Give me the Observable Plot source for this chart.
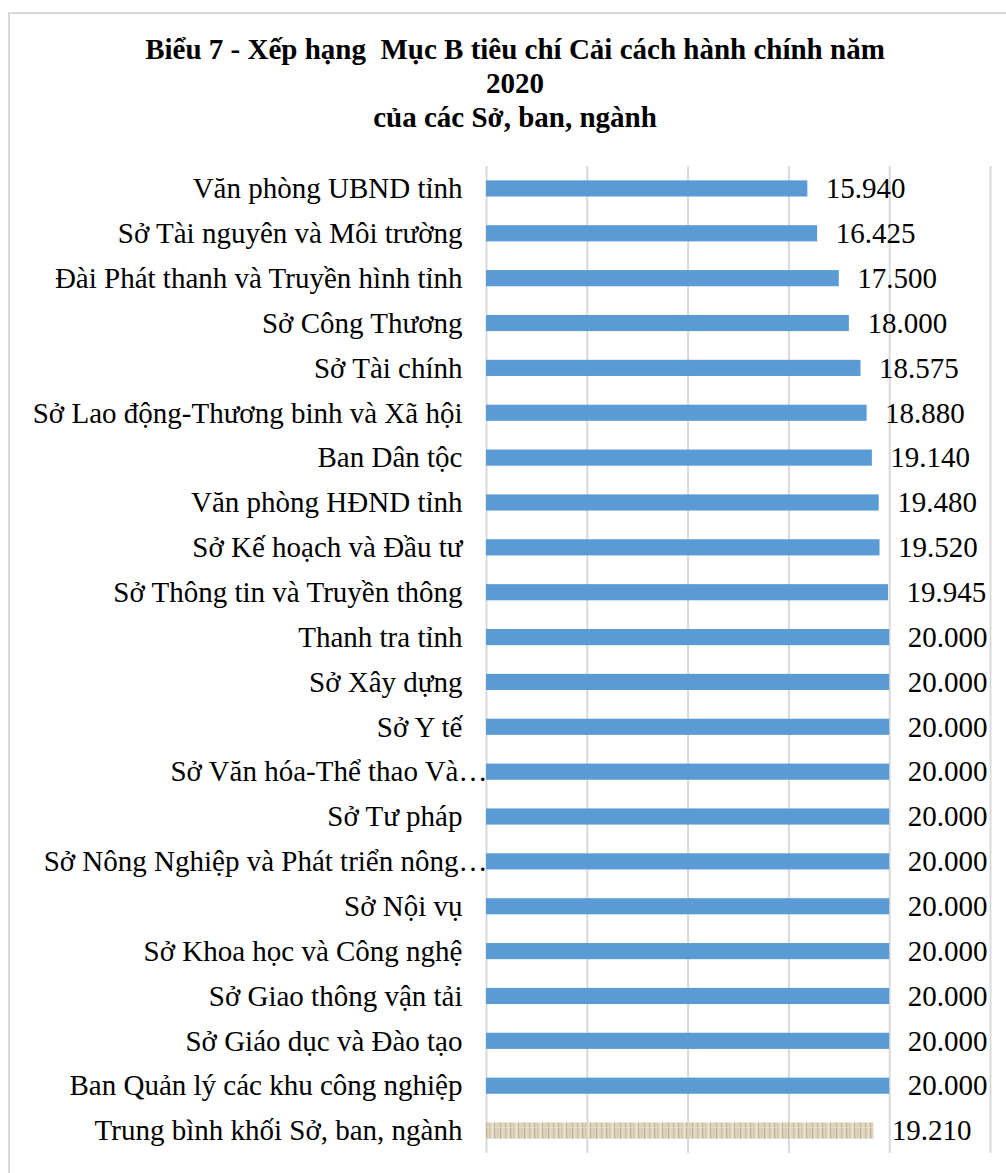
<!DOCTYPE html>
<html><head><meta charset="utf-8">
<script src="https://cdn.jsdelivr.net/npm/d3@7"></script>
<script src="https://cdn.jsdelivr.net/npm/@observablehq/plot@0.6"></script>
<style>
body{margin:0;width:1006px;height:1173px;overflow:hidden;background:#fff;position:relative;font-family:"Liberation Serif","Times New Roman",serif;}
#frame{position:absolute;left:8px;top:12px;width:1100px;height:1300px;border-left:2px solid #d9d9d9;border-top:2px solid #d9d9d9;}
#title{position:absolute;left:10px;width:1010px;top:32px;text-align:center;font-weight:bold;font-size:29px;line-height:34px;color:#000;}
#chart{position:absolute;left:0;top:0;}
</style></head><body>
<div id="frame"></div>
<div id="title">Biểu 7 - Xếp hạng&nbsp; Mục B tiêu chí Cải cách hành chính năm<br>2020<br>của các Sở, ban, ngành</div>
<div id="chart"></div>
<script>
const categories = [
  "Văn phòng UBND tỉnh",
  "Sở Tài nguyên và Môi trường",
  "Đài Phát thanh và Truyền hình tỉnh",
  "Sở Công Thương",
  "Sở Tài chính",
  "Sở Lao động-Thương binh và Xã hội",
  "Ban Dân tộc",
  "Văn phòng HĐND tỉnh",
  "Sở Kế hoạch và Đầu tư",
  "Sở Thông tin và Truyền thông",
  "Thanh tra tỉnh",
  "Sở Xây dựng",
  "Sở Y tế",
  "Sở Văn hóa-Thể thao Và…",
  "Sở Tư pháp",
  "Sở Nông Nghiệp và Phát triển nông…",
  "Sở Nội vụ",
  "Sở Khoa học và Công nghệ",
  "Sở Giao thông vận tải",
  "Sở Giáo dục và Đào tạo",
  "Ban Quản lý các khu công nghiệp",
  "Trung bình khối Sở, ban, ngành"
];
const values = [15.940, 16.425, 17.500, 18.000, 18.575, 18.880, 19.140, 19.480, 19.520, 19.945,
  20.000, 20.000, 20.000, 20.000, 20.000, 20.000, 20.000, 20.000, 20.000, 20.000, 20.000, 19.210];
const averageLabel = "Trung bình khối Sở, ban, ngành";
const truncatedLabels = ["Sở Văn hóa-Thể thao Và…", "Sở Nông Nghiệp và Phát triển nông…"];
const xTicks = [0, 5, 10, 15, 20, 25];

const rows = categories.map((name, i) => ({name, value: values[i]}));
const normalRows = rows.filter(d => d.name !== averageLabel);
const avgRows = rows.filter(d => d.name === averageLabel);
const labelRows = rows.filter(d => !truncatedLabels.includes(d.name));
const truncRows = rows.filter(d => truncatedLabels.includes(d.name));

const FS = 29;
const chart = Plot.plot({
  width: 1006,
  height: 1173,
  marginLeft: 486,
  marginRight: 16,
  marginTop: 166,
  marginBottom: 20,
  style: {fontFamily: '"Liberation Serif","Times New Roman",serif', background: "transparent"},
  x: {domain: [0, 25], axis: null},
  y: {domain: categories, axis: null, paddingInner: 0.64, paddingOuter: 0.32, round: false},
  marks: [
    Plot.gridX(xTicks, {stroke: "#d9d9d9", strokeWidth: 2, strokeOpacity: 1}),
    Plot.barX(normalRows, {x: "value", y: "name", fill: "#5b9bd5"}),
    Plot.barX(avgRows, {x: "value", y: "name", fill: "url(#tex)"}),
    Plot.text(rows, {x: "value", y: "name", text: d => d.value.toFixed(3), textAnchor: "start", dx: 18, fontSize: FS, fill: "#000"}),
    Plot.text(labelRows, {y: "name", text: "name", frameAnchor: "left", textAnchor: "end", dx: -24, fontSize: FS, fill: "#000"}),
    Plot.text(truncRows, {y: "name", text: "name", frameAnchor: "left", textAnchor: "end", dx: 1, fontSize: FS, fill: "#000"})
  ]
});

// texture pattern for the average bar
const svg = d3.select(chart);
const defs = svg.insert("defs", ":first-child");
const pat = defs.append("pattern").attr("id", "tex").attr("patternUnits", "userSpaceOnUse")
  .attr("width", 24).attr("height", 16);
pat.append("rect").attr("width", 24).attr("height", 16).attr("fill", "#ddd3bf");
[[1,"#c9bc9f"],[4,"#e8e0ce"],[6,"#bfb090"],[9,"#d2c6ab"],[12,"#eee7d8"],[14,"#c4b597"],[17,"#d8cdb4"],[20,"#bcae8f"],[22,"#e6dfcc"]]
  .forEach(([x, c]) => pat.append("rect").attr("x", x).attr("y", 0).attr("width", 1.2).attr("height", 16).attr("fill", c));
pat.append("rect").attr("x", 0).attr("y", 7).attr("width", 24).attr("height", 1).attr("fill", "#e9e2d2").attr("opacity", 0.6);

document.getElementById("chart").appendChild(chart);
</script>
</body></html>
